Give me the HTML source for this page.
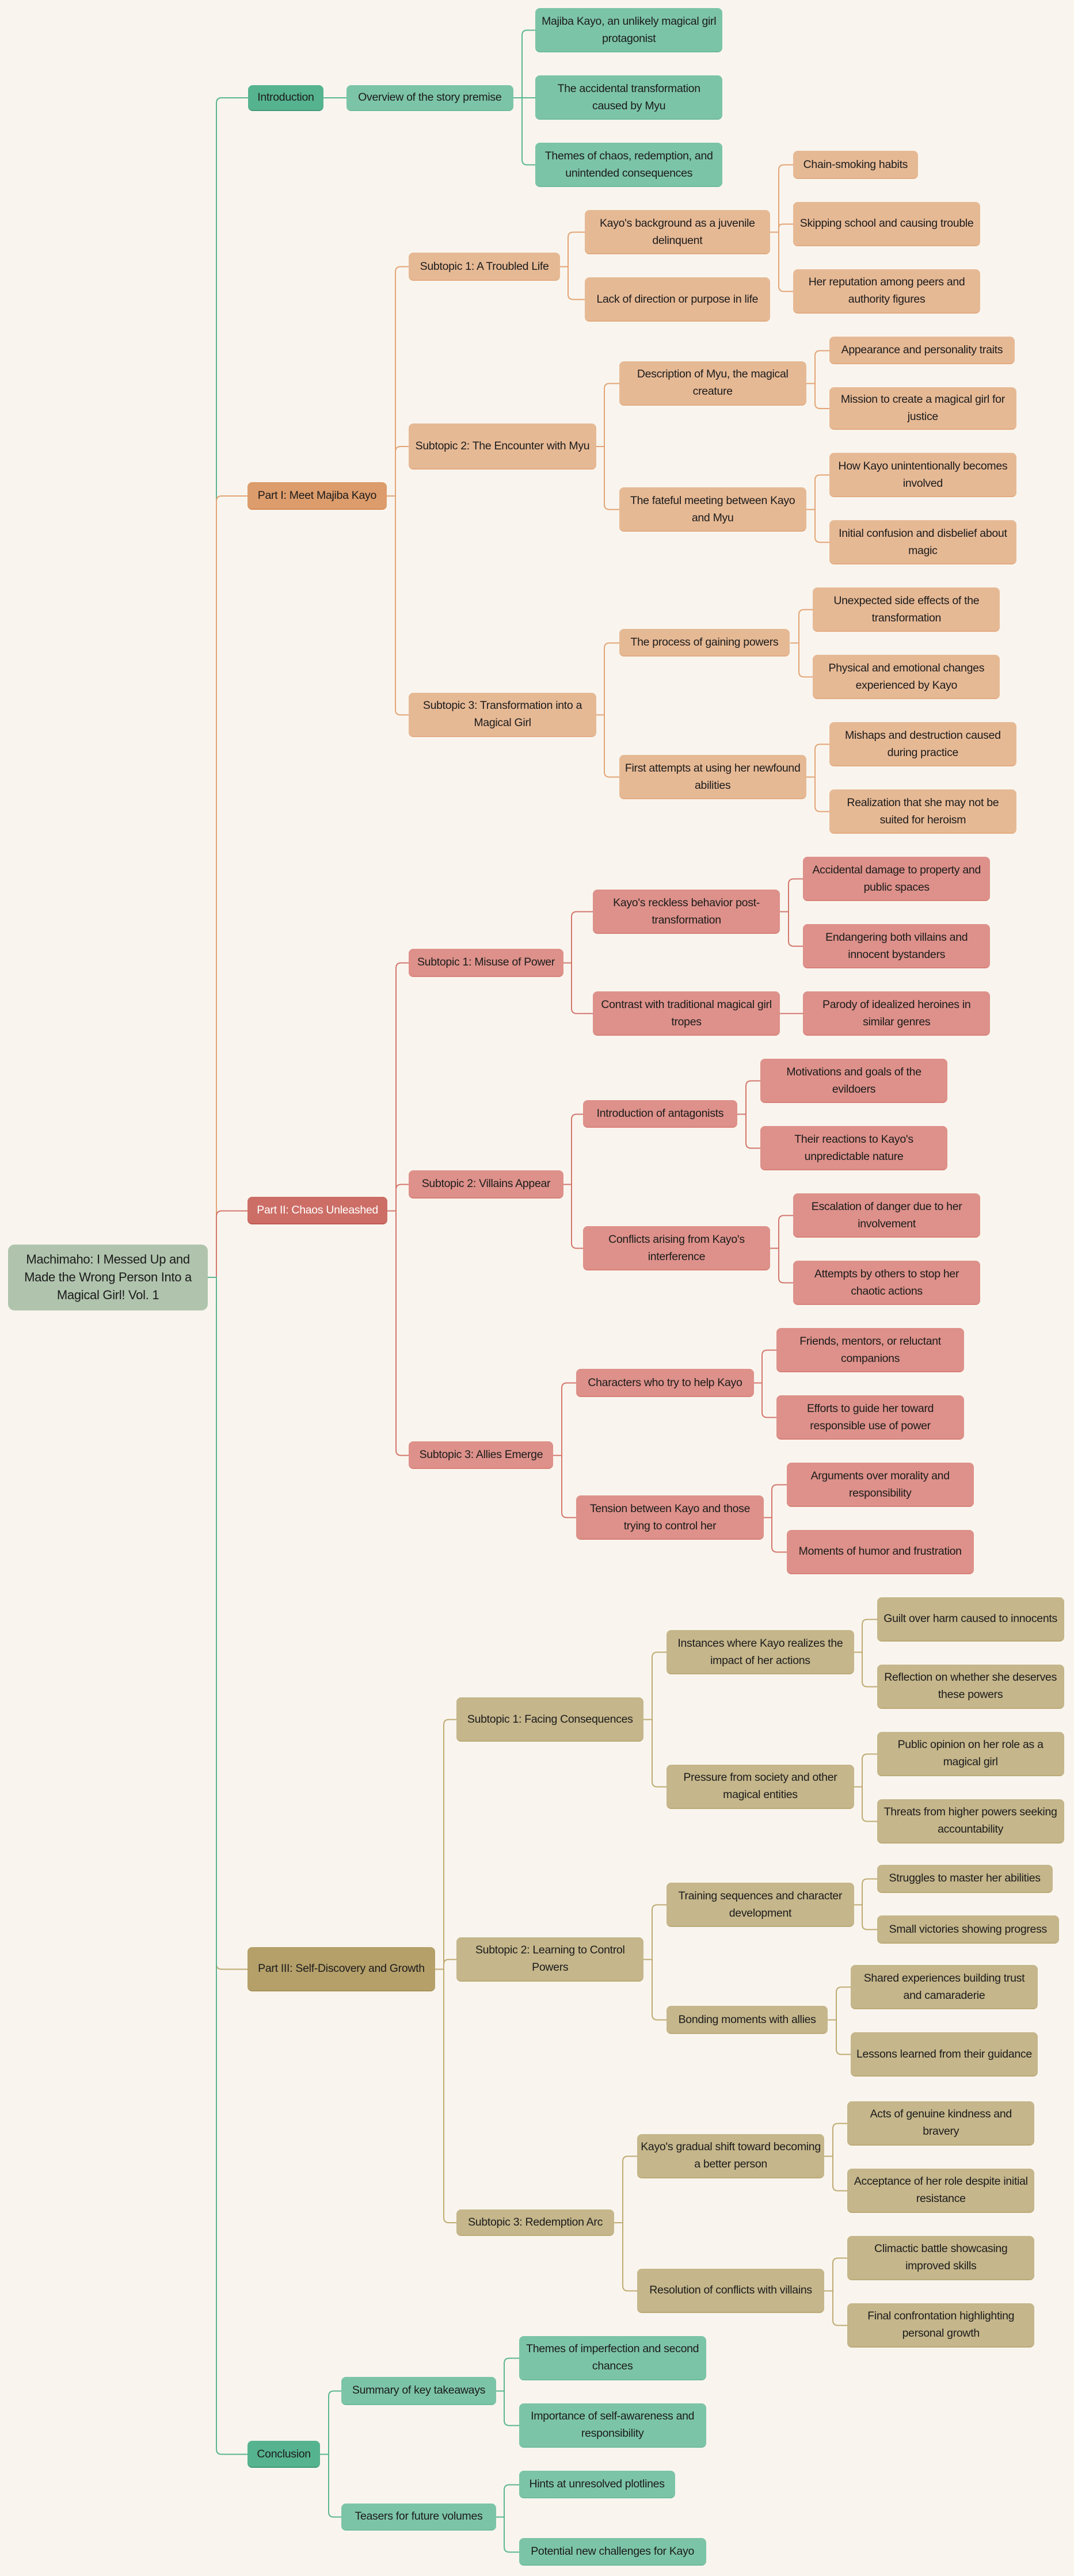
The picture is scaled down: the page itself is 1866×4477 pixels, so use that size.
<!DOCTYPE html>
<html><head><meta charset="utf-8">
<style>
html,body{margin:0;padding:0;background:#f9f5ee;}
body{width:1866px;height:4477px;position:relative;overflow:hidden;font-family:"Liberation Sans",Arial,sans-serif;}
.n{position:absolute;box-sizing:border-box;display:flex;align-items:center;justify-content:center;text-align:center;
left:calc(var(--a)*2.853px);top:calc(var(--b)*2.853px);width:calc((var(--c) - var(--a))*2.853px);height:calc((var(--d) - var(--b))*2.853px);
border-radius:8px;font-size:19.5px;line-height:30px;color:#1b1b1b;padding:0 6px;letter-spacing:-0.3px;}
.L0{background:#b0c4ad;border-radius:11px;font-size:22px;line-height:31px;box-shadow:0 1px 0 #d9dccb;}
.g{background:#7cc4a8;border-bottom:2px solid #6ebb9c;}
.g.L1{background:#56b390;border-bottom:2px solid #3f9a77;}
.o{background:#e6b995;border-bottom:2px solid #e2ab82;}
.o.L1{background:#dd9c6b;border-bottom:2px solid #d88c58;}
.r{background:#dd918a;border-bottom:2px solid #d88078;}
.r.L1{background:#cc6e66;border-bottom:2px solid #c05a52;color:#fff;}
.y{background:#c5b68b;border-bottom:2px solid #bcaa78;}
.y.L1{background:#b5a06a;border-bottom:2px solid #a8925a;}
svg{position:absolute;left:0;top:0;}
</style></head><body>
<svg id="lines" width="1866" height="4477"></svg>

<div class="n L0" style="--a:5;--b:758;--c:126.5;--d:798">Machimaho: I Messed Up and Made the Wrong Person Into a Magical Girl! Vol. 1</div>

<div class="n L1 g" style="--a:151;--b:52;--c:197;--d:67.5">Introduction</div>
<div class="n L2 g" style="--a:211;--b:52;--c:312.5;--d:67.5">Overview of the story premise</div>
<div class="n L3 g" style="--a:326;--b:5;--c:440;--d:32">Majiba Kayo, an unlikely magical girl protagonist</div>
<div class="n L3 g" style="--a:326;--b:46;--c:440;--d:73">The accidental transformation caused by Myu</div>
<div class="n L3 g" style="--a:326;--b:87;--c:440;--d:114">Themes of chaos, redemption, and unintended consequences</div>

<div class="n L1 o" style="--a:150.7;--b:293.7;--c:235.5;--d:310.5">Part I: Meet Majiba Kayo</div>
<div class="n L2 o" style="--a:249;--b:154;--c:341;--d:171">Subtopic 1: A Troubled Life</div>
<div class="n L3 o" style="--a:356;--b:128;--c:469;--d:155">Kayo's background as a juvenile delinquent</div>
<div class="n L4 o" style="--a:483;--b:92;--c:559;--d:109">Chain-smoking habits</div>
<div class="n L4 o" style="--a:483;--b:123;--c:597;--d:150">Skipping school and causing trouble</div>
<div class="n L4 o" style="--a:483;--b:164;--c:597;--d:191">Her reputation among peers and authority figures</div>
<div class="n L3 o" style="--a:356;--b:169;--c:469;--d:196">Lack of direction or purpose in life</div>
<div class="n L2 o" style="--a:249;--b:258;--c:363;--d:286">Subtopic 2: The Encounter with Myu</div>
<div class="n L3 o" style="--a:377;--b:220;--c:491;--d:247">Description of Myu, the magical creature</div>
<div class="n L4 o" style="--a:505;--b:205;--c:618;--d:222">Appearance and personality traits</div>
<div class="n L4 o" style="--a:505;--b:236;--c:619;--d:262">Mission to create a magical girl for justice</div>
<div class="n L3 o" style="--a:377;--b:297;--c:491;--d:324">The fateful meeting between Kayo and Myu</div>
<div class="n L4 o" style="--a:505;--b:276;--c:619;--d:303">How Kayo unintentionally becomes involved</div>
<div class="n L4 o" style="--a:505;--b:317;--c:619;--d:344">Initial confusion and disbelief about magic</div>
<div class="n L2 o" style="--a:249;--b:422;--c:363;--d:449">Subtopic 3: Transformation into a Magical Girl</div>
<div class="n L3 o" style="--a:377;--b:383;--c:481;--d:400">The process of gaining powers</div>
<div class="n L4 o" style="--a:495;--b:358;--c:609;--d:385">Unexpected side effects of the transformation</div>
<div class="n L4 o" style="--a:495;--b:399;--c:609;--d:426">Physical and emotional changes experienced by Kayo</div>
<div class="n L3 o" style="--a:377;--b:460;--c:491;--d:487">First attempts at using her newfound abilities</div>
<div class="n L4 o" style="--a:505;--b:440;--c:619;--d:467">Mishaps and destruction caused during practice</div>
<div class="n L4 o" style="--a:505;--b:481;--c:619;--d:508">Realization that she may not be suited for heroism</div>

<div class="n L1 r" style="--a:150.7;--b:729;--c:236;--d:746">Part II: Chaos Unleashed</div>
<div class="n L2 r" style="--a:249;--b:578;--c:343;--d:595">Subtopic 1: Misuse of Power</div>
<div class="n L3 r" style="--a:361;--b:542;--c:475;--d:569">Kayo's reckless behavior post-transformation</div>
<div class="n L4 r" style="--a:489;--b:522;--c:603;--d:549">Accidental damage to property and public spaces</div>
<div class="n L4 r" style="--a:489;--b:563;--c:603;--d:590">Endangering both villains and innocent bystanders</div>
<div class="n L3 r" style="--a:361;--b:604;--c:475;--d:631">Contrast with traditional magical girl tropes</div>
<div class="n L4 r" style="--a:489;--b:604;--c:603;--d:631">Parody of idealized heroines in similar genres</div>
<div class="n L2 r" style="--a:249;--b:713;--c:343;--d:730">Subtopic 2: Villains Appear</div>
<div class="n L3 r" style="--a:355;--b:670;--c:449;--d:687">Introduction of antagonists</div>
<div class="n L4 r" style="--a:463;--b:645;--c:577;--d:672">Motivations and goals of the evildoers</div>
<div class="n L4 r" style="--a:463;--b:686;--c:577;--d:713">Their reactions to Kayo's unpredictable nature</div>
<div class="n L3 r" style="--a:355;--b:747;--c:469;--d:774">Conflicts arising from Kayo's interference</div>
<div class="n L4 r" style="--a:483;--b:727;--c:597;--d:754">Escalation of danger due to her involvement</div>
<div class="n L4 r" style="--a:483;--b:768;--c:597;--d:795">Attempts by others to stop her chaotic actions</div>
<div class="n L2 r" style="--a:249;--b:878;--c:337;--d:895">Subtopic 3: Allies Emerge</div>
<div class="n L3 r" style="--a:351;--b:834;--c:459;--d:851">Characters who try to help Kayo</div>
<div class="n L4 r" style="--a:473;--b:809;--c:587;--d:836">Friends, mentors, or reluctant companions</div>
<div class="n L4 r" style="--a:473;--b:850;--c:587;--d:877">Efforts to guide her toward responsible use of power</div>
<div class="n L3 r" style="--a:351;--b:911;--c:465;--d:938">Tension between Kayo and those trying to control her</div>
<div class="n L4 r" style="--a:479;--b:891;--c:593;--d:918">Arguments over morality and responsibility</div>
<div class="n L4 r" style="--a:479;--b:932;--c:593;--d:959">Moments of humor and frustration</div>

<div class="n L1 y" style="--a:150.7;--b:1186;--c:265;--d:1213">Part III: Self-Discovery and Growth</div>
<div class="n L2 y" style="--a:278;--b:1034;--c:392;--d:1061">Subtopic 1: Facing Consequences</div>
<div class="n L3 y" style="--a:406;--b:993;--c:520;--d:1020">Instances where Kayo realizes the impact of her actions</div>
<div class="n L4 y" style="--a:534;--b:973;--c:648;--d:1000">Guilt over harm caused to innocents</div>
<div class="n L4 y" style="--a:534;--b:1014;--c:648;--d:1041">Reflection on whether she deserves these powers</div>
<div class="n L3 y" style="--a:406;--b:1075;--c:520;--d:1102">Pressure from society and other magical entities</div>
<div class="n L4 y" style="--a:534;--b:1055;--c:648;--d:1082">Public opinion on her role as a magical girl</div>
<div class="n L4 y" style="--a:534;--b:1096;--c:648;--d:1123">Threats from higher powers seeking accountability</div>
<div class="n L2 y" style="--a:278;--b:1180;--c:392;--d:1207">Subtopic 2: Learning to Control Powers</div>
<div class="n L3 y" style="--a:406;--b:1147;--c:520;--d:1174">Training sequences and character development</div>
<div class="n L4 y" style="--a:534;--b:1136;--c:641;--d:1153">Struggles to master her abilities</div>
<div class="n L4 y" style="--a:534;--b:1167;--c:645;--d:1184">Small victories showing progress</div>
<div class="n L3 y" style="--a:406;--b:1222;--c:504;--d:1239">Bonding moments with allies</div>
<div class="n L4 y" style="--a:518;--b:1197;--c:632;--d:1224">Shared experiences building trust and camaraderie</div>
<div class="n L4 y" style="--a:518;--b:1238;--c:632;--d:1265">Lessons learned from their guidance</div>
<div class="n L2 y" style="--a:278;--b:1346;--c:374;--d:1362">Subtopic 3: Redemption Arc</div>
<div class="n L3 y" style="--a:388;--b:1300;--c:502;--d:1327">Kayo's gradual shift toward becoming a better person</div>
<div class="n L4 y" style="--a:516;--b:1280;--c:630;--d:1307">Acts of genuine kindness and bravery</div>
<div class="n L4 y" style="--a:516;--b:1321;--c:630;--d:1348">Acceptance of her role despite initial resistance</div>
<div class="n L3 y" style="--a:388;--b:1382;--c:502;--d:1409">Resolution of conflicts with villains</div>
<div class="n L4 y" style="--a:516;--b:1362;--c:630;--d:1389">Climactic battle showcasing improved skills</div>
<div class="n L4 y" style="--a:516;--b:1403;--c:630;--d:1430">Final confrontation highlighting personal growth</div>

<div class="n L1 g" style="--a:150.7;--b:1487;--c:195;--d:1503.5">Conclusion</div>
<div class="n L2 g" style="--a:208;--b:1448;--c:302;--d:1465">Summary of key takeaways</div>
<div class="n L3 g" style="--a:316;--b:1423;--c:430;--d:1450">Themes of imperfection and second chances</div>
<div class="n L3 g" style="--a:316;--b:1464;--c:430;--d:1491">Importance of self-awareness and responsibility</div>
<div class="n L2 g" style="--a:208;--b:1525;--c:302;--d:1541.5">Teasers for future volumes</div>
<div class="n L3 g" style="--a:316;--b:1505;--c:411;--d:1522">Hints at unresolved plotlines</div>
<div class="n L3 g" style="--a:316;--b:1546;--c:430;--d:1563">Potential new challenges for Kayo</div>

<script>
(function(){
var cols={g:'#5bb592',o:'#e3a476',r:'#d3766d',y:'#bfaa72'};
var nodes=document.querySelectorAll('.n');
var stack=[];var svg=document.getElementById('lines');var out='';
for(var i=0;i<nodes.length;i++){
  var el=nodes[i];var lv=+(/L(\d)/.exec(el.className)[1]);
  while(stack.length&&stack[stack.length-1].lv>=lv)stack.pop();
  var p=stack.length?stack[stack.length-1].el:null;
  if(p){
    var br=/\b([gory])\b/.exec(el.className)[1];
    var pr=p.offsetLeft+p.offsetWidth, py=p.offsetTop+p.offsetHeight/2;
    var cx=el.offsetLeft, cy=el.offsetTop+el.offsetHeight/2;
    var sx=pr+15;var d=cy-py;var r=Math.min(9,Math.abs(d)/2);var s=d>0?1:-1;
    var path;
    if(Math.abs(d)<1){path='M'+pr+' '+py+' H'+cx;}
    else path='M'+pr+' '+py+' H'+sx+' V'+(cy-s*r)+' Q'+sx+' '+cy+' '+(sx+r)+' '+cy+' H'+cx;
    out+='<path d="'+path+'" fill="none" stroke="'+cols[br]+'" stroke-width="2"/>';
  }
  stack.push({lv:lv,el:el});
}
svg.innerHTML=out;
})();
</script>
</body></html>
